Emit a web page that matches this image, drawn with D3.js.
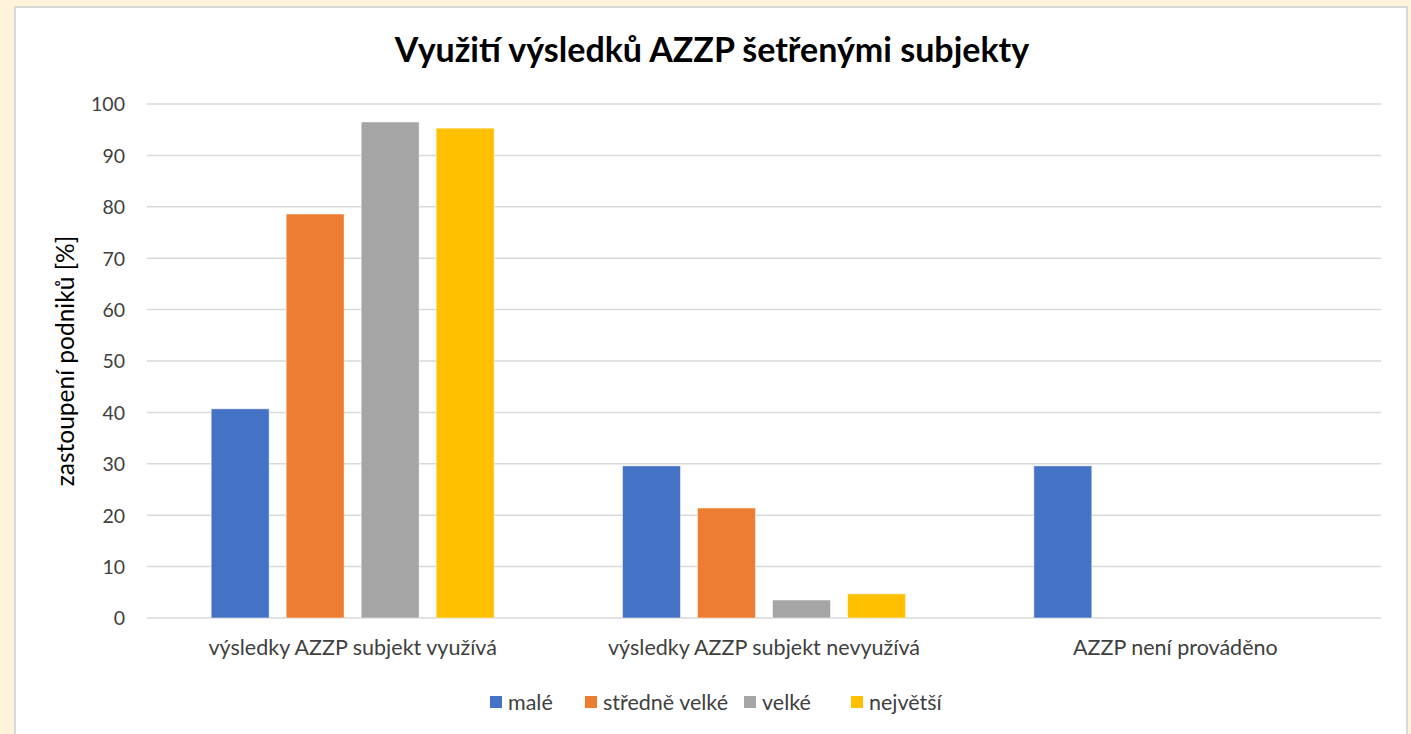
<!DOCTYPE html>
<html><head><meta charset="utf-8">
<script src="https://cdn.jsdelivr.net/npm/d3@7"></script>
<style>
html,body{margin:0;padding:0;background:#FFF3DC;}
svg{display:block;}
</style></head>
<body>
<script>
const categories = ["výsledky AZZP subjekt využívá", "výsledky AZZP subjekt nevyužívá", "AZZP není prováděno"];
const seriesNames = ["malé", "středně velké", "velké", "největší"];
const seriesColors = ["#4472C4", "#ED7D31", "#A5A5A5", "#FFC000"];
const male = [40.7, 29.6, 29.6];
const stredneVelke = [78.6, 21.4, 0];
const velke = [96.5, 3.5, 0];
const nejvetsi = [95.3, 4.7, 0];
const yTicks = [0, 10, 20, 30, 40, 50, 60, 70, 80, 90, 100];
const title = "Využití výsledků AZZP šetřenými subjekty";
const yTitle = "zastoupení podniků [%]";

const seriesValues = [male, stredneVelke, velke, nejvetsi];
const W = 1411, H = 734;
const font = "Lato, 'Open Sans', sans-serif";
const svg = d3.select("body").append("svg").attr("width", W).attr("height", H);

// chart box
svg.append("rect").attr("x", 15).attr("y", 7).attr("width", 1392).attr("height", 740)
  .attr("fill", "#fff").attr("stroke", "#D9D9D9").attr("stroke-width", 2);

const plot = {left: 147, right: 1381, top: 104, bottom: 618};
const x0 = d3.scaleBand().domain(categories).range([plot.left, plot.right]).paddingInner(0).paddingOuter(0);
const y = d3.scaleLinear().domain([0, 100]).range([plot.bottom, plot.top]);
const groupW = 283;
const x1 = d3.scaleBand().domain(seriesNames).range([0, groupW]).paddingInner(0.227).paddingOuter(0);

// gridlines
svg.append("g").selectAll("line").data(yTicks).join("line")
  .attr("x1", plot.left).attr("x2", plot.right)
  .attr("y1", d => y(d)).attr("y2", d => y(d))
  .attr("stroke", "#D9D9D9").attr("stroke-width", 1.5);

// y axis labels
const yAxis = d3.axisLeft(y).tickValues(yTicks).tickSize(0).tickPadding(0);
const ga = svg.append("g").attr("transform", `translate(${plot.left - 22},0)`).call(yAxis);
ga.select(".domain").remove();
ga.selectAll("text").attr("font-family", font).attr("font-size", 19.5).attr("fill", "#404040").attr("dy", "0.35em");

// bars
const groups = svg.append("g").selectAll("g").data(categories).join("g")
  .attr("transform", c => `translate(${x0(c) + (x0.bandwidth() - groupW) / 2},0)`);
groups.selectAll("rect").data((c, ci) => seriesNames.map((s, si) => ({s, si, v: seriesValues[si][ci]})))
  .join("rect")
  .filter(d => d.v > 0)
  .attr("x", d => x1(d.s)).attr("width", x1.bandwidth())
  .attr("y", d => y(d.v)).attr("height", d => y(0) - y(d.v))
  .attr("fill", d => seriesColors[d.si])
  .attr("stroke", "#fff").attr("stroke-opacity", 0.5).attr("stroke-width", 1);

// category labels
const gx = svg.append("g").attr("transform", `translate(0,${plot.bottom})`)
  .call(d3.axisBottom(x0).tickSize(0).tickPadding(22));
gx.select(".domain").remove();
gx.selectAll("text").attr("font-family", font).attr("font-size", 21.5).attr("fill", "#404040");

// title
svg.append("text").attr("x", 712).attr("y", 62).attr("text-anchor", "middle")
  .attr("font-family", font).attr("font-weight", "bold").attr("font-size", 34).attr("fill", "#000")
  .text(title);

// y title
svg.append("text").attr("transform", `translate(74,361) rotate(-90)`).attr("text-anchor", "middle")
  .attr("font-family", font).attr("font-size", 24.5).attr("fill", "#000").text(yTitle);

// legend
const legendX = [490, 585, 744, 851];
const lg = svg.append("g").selectAll("g").data(seriesNames).join("g")
  .attr("transform", (d, i) => `translate(${legendX[i]},702)`);
lg.append("rect").attr("x", 0).attr("y", -6).attr("width", 12).attr("height", 12)
  .attr("fill", (d, i) => seriesColors[i]);
lg.append("text").attr("x", 18).attr("y", 0).attr("dy", "0.35em")
  .attr("font-family", font).attr("font-size", 21.5).attr("fill", "#404040").text(d => d);
</script>
</body></html>
